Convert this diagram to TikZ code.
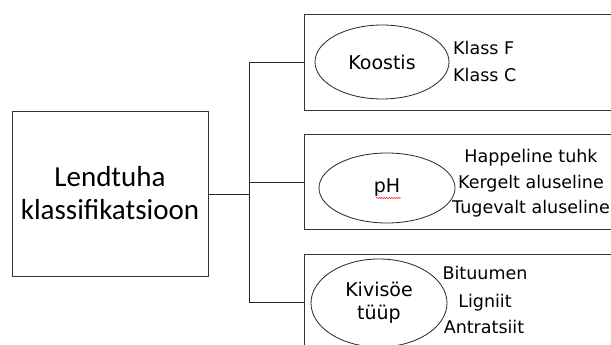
\documentclass[tikz,border=0pt]{standalone}
\usepackage{fontspec}
\setmainfont{DejaVu Sans}
\newfontfamily\calibri{Carlito}
\usetikzlibrary{shapes.geometric,decorations.pathmorphing}
\begin{document}
\begin{tikzpicture}[x=1pt,y=-1pt,
  boxline/.style={draw=black!80, line width=1.1pt},
  bigbox/.style={boxline, rectangle, inner sep=0pt, anchor=north west},
  oval/.style={draw=black!85, line width=0.8pt, ellipse, inner sep=0pt, align=center,
    font=\fontsize{19}{23}\selectfont},
  side/.style={inner sep=0pt, font=\fontsize{17.5}{21}\selectfont},
  conn/.style={draw=black!85, line width=1.1pt}]
\useasboundingbox (0,0) rectangle (611,345);
\clip (0,0) rectangle (611,345);
\fill[white] (0,0) rectangle (611,345);

% main box
\node[bigbox, minimum width=196, minimum height=165] (main) at (12,111) {};
\node[inner sep=0pt, anchor=base, font=\calibri\fontsize{29}{33}\selectfont] (l1) at (110,186) {Lendtuha};
\node[inner sep=0pt, anchor=base, font=\calibri\fontsize{29}{33}\selectfont] (l2) at (110,219) {klassifikatsioon};

% category boxes
\node[bigbox, minimum width=320, minimum height=96] (b1) at (304,14) {};
\node[bigbox, minimum width=320, minimum height=95] (b2) at (304,134) {};
\node[bigbox, minimum width=320, minimum height=96] (b3) at (304,254) {};

% connectors
\coordinate (j) at ([xshift=40pt]main.east);
\draw[conn] (main.east) -- (j);
\draw[conn] (j) |- (b1.west);
\draw[conn] (j) |- (b2.west);
\draw[conn] (j) |- (b3.west);

% ellipses
\node[oval, minimum width=134, minimum height=74] (e1) at (382,62) {Koostis};
\node[oval, minimum width=136, minimum height=70] (e2) at (387,188) {pH};
\node[oval, minimum width=136, minimum height=88] (e3) at (379,303) {Kivisöe\\tüüp};
\draw[red, line width=0.5pt, decorate, decoration={snake, amplitude=0.6pt, segment length=2.5pt}]
  (376,198) -- (401,198);

% side texts
\node[side, anchor=base west] (t11) at (453,55) {Klass F};
\node[side, anchor=base west] (t12) at (453,82) {Klass C};
\node[side, anchor=base] (t21) at (531,162) {Happeline tuhk};
\node[side, anchor=base] (t22) at (531,188) {Kergelt aluseline};
\node[side, anchor=base] (t23) at (531,213) {Tugevalt aluseline};
\node[side, anchor=base] (t31) at (485,279) {Bituumen};
\node[side, anchor=base] (t32) at (485,307) {Ligniit};
\node[side, anchor=base] (t33) at (484,333) {Antratsiit};
\end{tikzpicture}
\end{document}
